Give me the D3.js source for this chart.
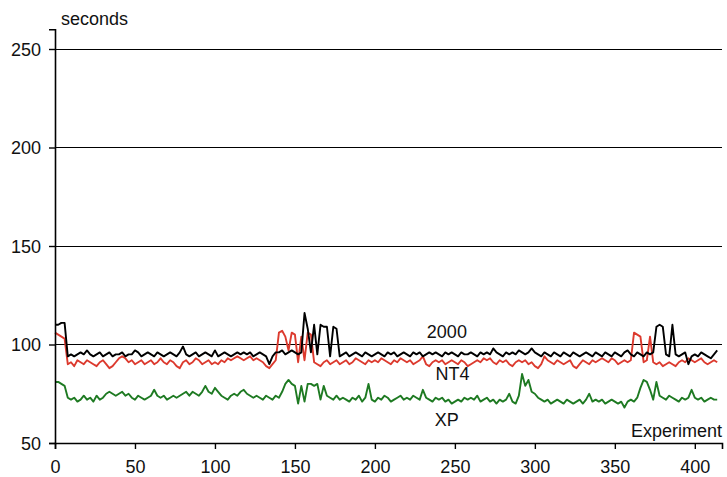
<!DOCTYPE html>
<html>
<head>
<meta charset="utf-8">
<script src="https://cdn.jsdelivr.net/npm/d3@7"></script>
<style>
  html, body { margin: 0; padding: 0; background: #fff; }
  svg { display: block; }
  text { font-family: "Liberation Sans", Arial, sans-serif; fill: #111; }
</style>
</head>
<body>
<div id="chart"></div>
<script>
// ---- data (experiments 0..414, every 2nd experiment) ----
const experiments = d3.range(0, 415, 2);

const series2000 = [
  110,110,111,111,94,95,94,95,96,95,
  97,95,94,95,96,94,95,96,94,95,
  95,96,94,95,95,97,96,94,95,96,
  95,94,96,95,94,95,96,95,94,96,
  99,95,94,95,96,94,95,96,95,94,
  97,94,95,96,95,94,95,96,95,96,
  95,96,94,95,96,95,94,90,94,96,
  96,97,95,96,97,96,95,96,116,108,
  96,110,95,110,109,109,94,109,108,94,
  95,96,94,95,96,95,94,96,95,94,
  95,96,95,94,96,95,96,94,95,96,
  95,94,96,95,96,94,95,96,95,96,
  95,94,96,95,96,95,94,96,95,95,
  96,95,94,96,95,96,95,98,96,95,
  94,96,95,96,95,97,96,95,96,98,
  96,95,94,96,95,94,96,95,94,96,
  95,94,96,95,94,95,96,95,94,96,
  95,94,96,95,94,96,95,94,96,97,
  95,94,96,95,94,96,95,96,109,110,
  109,95,94,110,95,94,95,96,90,94,
  95,94,96,95,94,93,95,97
];

const seriesNT4 = [
  106,105,104,103,90,91,89,92,91,90,
  92,91,90,89,91,92,90,88,89,91,
  93,94,93,91,92,90,91,92,90,91,
  92,90,91,93,91,90,92,91,89,88,
  91,92,90,91,93,92,90,91,92,90,
  91,90,92,91,93,92,93,94,93,92,
  93,94,92,93,92,91,89,88,90,92,
  106,107,104,97,106,105,91,104,92,106,
  105,91,90,89,91,92,90,91,92,90,
  91,92,90,91,93,92,91,90,92,91,
  92,91,93,92,91,90,92,91,93,92,
  91,92,90,91,92,94,90,89,91,92,
  91,92,90,91,92,91,90,92,91,89,
  90,91,92,91,93,92,93,91,90,92,
  91,92,90,89,91,92,91,92,90,91,
  89,88,90,94,92,91,90,92,91,90,
  91,92,89,88,90,92,91,90,92,91,
  92,93,92,91,93,92,90,91,92,91,
  92,106,105,104,91,92,104,91,90,91,
  89,90,91,90,89,91,92,91,93,92,
  91,92,93,91,90,91,92,91
];

const seriesXP = [
  81,81,80,79,73,72,73,71,72,74,
  72,73,71,74,72,73,75,76,75,74,
  75,76,74,75,73,72,74,73,72,73,
  74,77,74,73,74,72,73,74,73,74,
  75,76,74,76,75,74,76,79,76,75,
  78,76,74,73,72,74,75,74,76,77,
  75,74,73,74,73,72,74,73,72,74,
  73,76,80,82,80,79,70,79,71,80,
  80,79,80,72,79,74,73,72,74,72,
  73,72,71,73,72,74,71,73,80,72,
  71,73,72,74,73,71,72,73,74,72,
  73,72,74,73,72,77,73,72,71,73,
  72,73,71,72,70,71,72,71,73,72,
  73,72,74,71,72,73,71,72,70,72,
  71,72,75,71,70,74,85,79,82,76,
  75,73,72,71,72,70,71,72,71,70,
  72,71,70,71,72,70,72,75,71,72,
  71,72,70,71,72,71,70,71,68,71,
  72,71,73,78,82,81,77,72,81,74,
  73,72,74,73,72,71,73,72,73,77,
  73,72,73,71,72,73,72,72
];

const xTicks = [0, 50, 100, 150, 200, 250, 300, 350, 400];
const yTicks = [50, 100, 150, 200, 250];
const gridValues = [100, 150, 200, 250];

const seriesNames = ["XP", "NT4", "2000"];
const seriesColors = ["#1e7a22", "#dc3a2e", "#000000"];
const seriesData = [seriesXP, seriesNT4, series2000];
// label anchor points (data coordinates)
const labelX = [245, 248.5, 245];
const labelY = [58.8, 82, 103.5];

// ---- drawing ----
const W = 727, H = 477;
const svg = d3.select("#chart").append("svg").attr("width", W).attr("height", H);

const x = d3.scaleLinear().domain([0, 417]).range([55, 722]);
const y = d3.scaleLinear().domain([50, 260]).range([443, 29.3]);

// gridlines
svg.append("g").selectAll("line").data(gridValues).join("line")
  .attr("x1", x(0)).attr("x2", x(417))
  .attr("y1", d => y(d)).attr("y2", d => y(d))
  .attr("stroke", "#000").attr("stroke-width", 1).attr("shape-rendering", "crispEdges");

// series lines
const line = d3.line().x((d, i) => x(experiments[i])).y(d => y(d));
svg.append("g").selectAll("path").data(seriesData).join("path")
  .attr("d", d => line(d))
  .attr("fill", "none")
  .attr("stroke", (d, i) => seriesColors[i])
  .attr("stroke-width", 1.9)
  .attr("stroke-linejoin", "round");

// y axis
const yAxis = d3.axisLeft(y).tickValues(yTicks).tickSize(6).tickPadding(8);
const gy = svg.append("g").attr("transform", `translate(${x(0)},0)`).call(yAxis);
gy.select(".domain").attr("stroke", "#000").attr("stroke-width", 1.6);
gy.selectAll(".tick line").attr("stroke", "#000").attr("stroke-width", 1.4);
gy.selectAll(".tick text").attr("font-size", 18).attr("font-family", "Liberation Sans, Arial, sans-serif").attr("fill", "#111").attr("dy", "0.36em");

// x axis
const xAxis = d3.axisBottom(x).tickValues(xTicks).tickSize(6).tickPadding(11);
const gx = svg.append("g").attr("transform", `translate(0,${y(50)})`).call(xAxis);
gx.select(".domain").attr("stroke", "#000").attr("stroke-width", 1.6);
gx.selectAll(".tick line").attr("stroke", "#000").attr("stroke-width", 1.4);
gx.selectAll(".tick text").attr("font-size", 18).attr("font-family", "Liberation Sans, Arial, sans-serif").attr("fill", "#111");

// axis titles
svg.append("text").attr("x", 61).attr("y", 25).attr("font-size", 18).text("seconds");
svg.append("text").attr("x", 722).attr("y", 437).attr("font-size", 18).attr("text-anchor", "end").text("Experiment");

// series labels
svg.append("g").selectAll("text").data(seriesNames).join("text")
  .attr("x", (d, i) => x(labelX[i]))
  .attr("y", (d, i) => y(labelY[i]))
  .attr("text-anchor", "middle")
  .attr("font-size", 18)
  .text(d => d);
</script>
</body>
</html>
